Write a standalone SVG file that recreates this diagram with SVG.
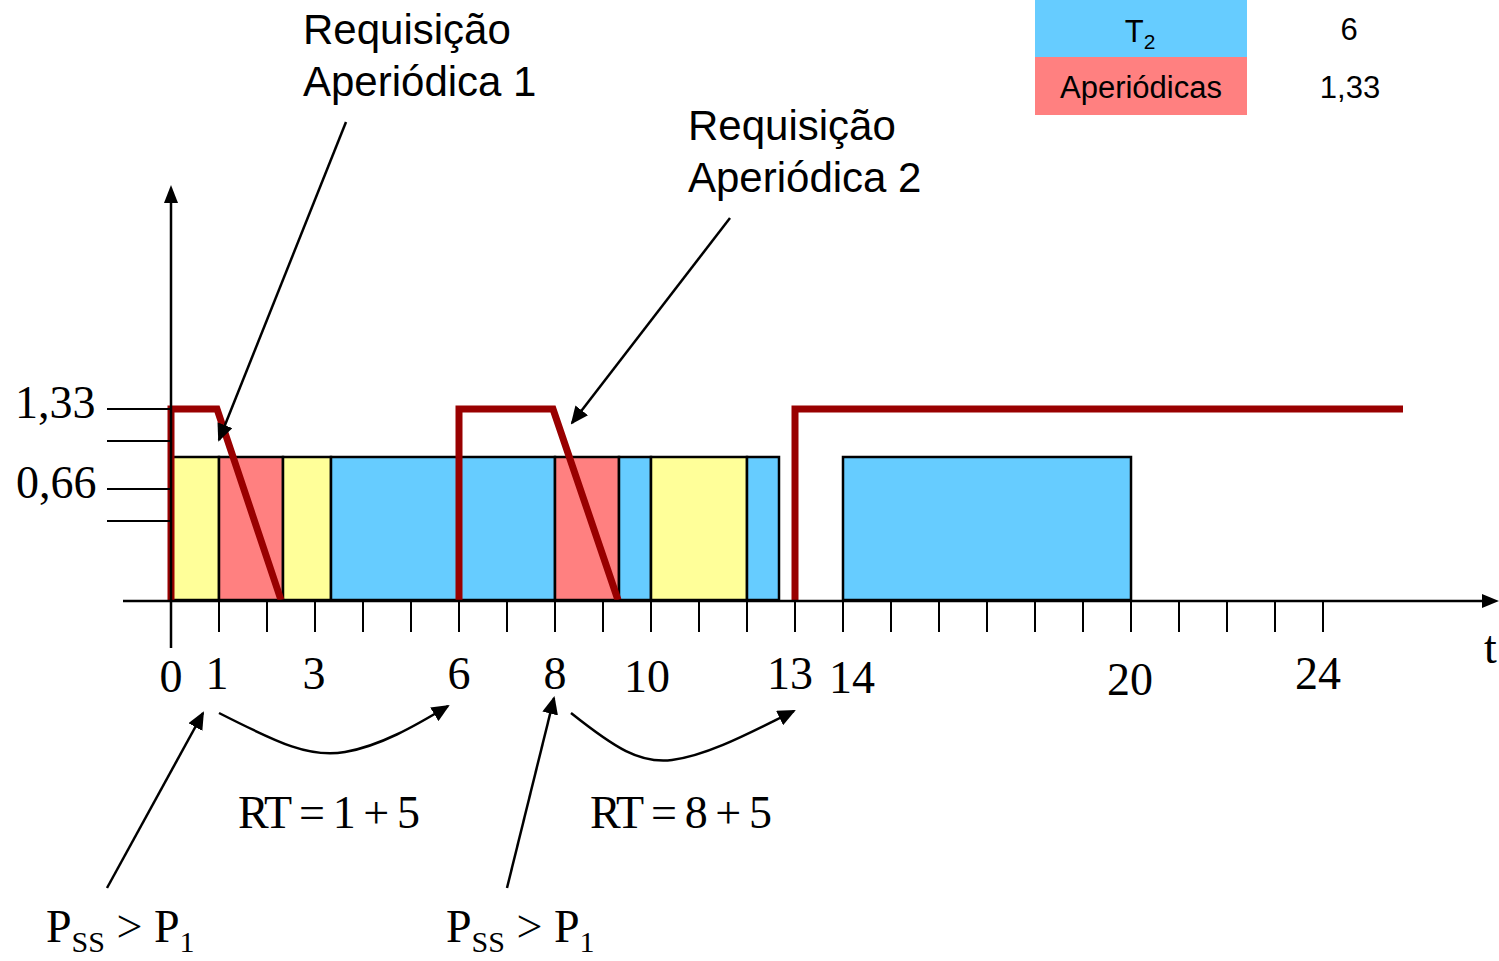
<svg xmlns="http://www.w3.org/2000/svg" width="1499" height="961" viewBox="0 0 1499 961">
<style>
.blue{fill:#66CCFF;stroke:#000;stroke-width:2.5}
.red{fill:#FF8080;stroke:#000;stroke-width:2.5}
.yel{fill:#FFFF99;stroke:#000;stroke-width:2.5}
.ax{stroke:#000;stroke-width:2.5;fill:none}
.tk{stroke:#000;stroke-width:2;fill:none}
.sig{stroke:#990000;stroke-width:7;fill:none;stroke-linejoin:miter}
.conn{stroke:#000;stroke-width:2.5;fill:none;marker-end:url(#ah)}
.ser{font-family:"Liberation Serif","Times New Roman",serif;font-size:46px;fill:#000}
.num{font-family:"Liberation Serif","Times New Roman",serif;font-size:46px;fill:#000;text-anchor:middle}
.san{font-family:"Liberation Sans",Arial,sans-serif;font-size:42px;fill:#000}
.leg{font-family:"Liberation Sans",Arial,sans-serif;font-size:31px;fill:#000;text-anchor:middle}
</style>
<defs>
<marker id="ah" markerWidth="18" markerHeight="16" refX="16" refY="8" orient="auto" markerUnits="userSpaceOnUse">
<path d="M0,0 L18,8 L0,16 Z" fill="#000"/>
</marker>
</defs>

<g id="legend">
<rect x="1035" y="0" width="212" height="57" fill="#66CCFF"/>
<rect x="1035" y="57" width="212" height="58" fill="#FF8080"/>
<text class="leg" x="1140" y="42">T<tspan font-size="21" dy="7">2</tspan></text>
<text class="leg" x="1349" y="40">6</text>
<text class="leg" x="1141" y="98">Aperiódicas</text>
<text class="leg" x="1350" y="98">1,33</text>
</g>

<g id="blocks">
<rect class="yel" x="171" y="457" width="48" height="143"/>
<rect class="red" x="219" y="457" width="64" height="143"/>
<rect class="yel" x="283" y="457" width="48" height="143"/>
<rect class="blue" x="331" y="457" width="224" height="143"/>
<rect class="red" x="555" y="457" width="64" height="143"/>
<rect class="blue" x="619" y="457" width="32" height="143"/>
<rect class="yel" x="651" y="457" width="96" height="143"/>
<rect class="blue" x="747" y="457" width="32" height="143"/>
<rect class="blue" x="843" y="457" width="288" height="143"/>
</g>

<g id="server-capacity">
<polyline class="sig" points="171,600 171,409 217,409 281,600"/>
<polyline class="sig" points="459,600 459,409 553,409 618,600"/>
<polyline class="sig" points="795,600 795,409 1403,409"/>
</g>

<g id="axes">
<line class="ax" x1="171" y1="648" x2="171" y2="200"/>
<path d="M164,203 L171,185 L178,203 Z" fill="#000"/>
<line class="ax" x1="123" y1="601" x2="1484" y2="601"/>
<path d="M1482,594 L1499,601 L1482,608 Z" fill="#000"/>
<g class="tk">
<line x1="107" y1="409" x2="171" y2="409"/>
<line x1="107" y1="441" x2="171" y2="441"/>
<line x1="107" y1="489" x2="171" y2="489"/>
<line x1="107" y1="521" x2="171" y2="521"/>
<path d="M219,601V632M267,601V632M315,601V632M363,601V632M411,601V632M459,601V632M507,601V632M555,601V632M603,601V632M651,601V632M699,601V632M747,601V632M795,601V632M843,601V632M891,601V632M939,601V632M987,601V632M1035,601V632M1083,601V632M1131,601V632M1179,601V632M1227,601V632M1275,601V632M1323,601V632"/>
</g>
</g>

<g id="axis-labels">
<text class="ser" x="15" y="418" font-size="47">1,33</text>
<text class="ser" x="16" y="498" font-size="47">0,66</text>
<text class="num" x="171" y="692">0</text>
<text class="num" x="217" y="689">1</text>
<text class="num" x="314" y="689">3</text>
<text class="num" x="459" y="689">6</text>
<text class="num" x="555" y="689">8</text>
<text class="num" x="647" y="692">10</text>
<text class="num" x="790" y="689">13</text>
<text class="num" x="852" y="693">14</text>
<text class="num" x="1130" y="695">20</text>
<text class="num" x="1318" y="689">24</text>
<text class="ser" x="1484" y="663">t</text>
</g>

<g id="req1-label">
<text class="san" x="303" y="44">Requisição</text>
<text class="san" x="303" y="96">Aperiódica 1</text>
</g>
<g id="req2-label">
<text class="san" x="688" y="140">Requisição</text>
<text class="san" x="688" y="192">Aperiódica 2</text>
</g>

<g id="rt-labels">
<text class="ser" x="238" y="828" font-size="44" textLength="182" lengthAdjust="spacing">RT = 1 + 5</text>
<text class="ser" x="590" y="828" font-size="44" textLength="182" lengthAdjust="spacing">RT = 8 + 5</text>
</g>

<g id="priority-labels">
<text class="ser" x="46" y="942" font-size="48">P<tspan font-size="30" dy="10">SS</tspan><tspan dy="-10"> &gt; P</tspan><tspan font-size="30" dy="10">1</tspan></text>
<text class="ser" x="446" y="942" font-size="48">P<tspan font-size="30" dy="10">SS</tspan><tspan dy="-10"> &gt; P</tspan><tspan font-size="30" dy="10">1</tspan></text>
</g>

<g id="connectors">
<line class="conn" x1="346" y1="122" x2="219" y2="440"/>
<line class="conn" x1="730" y1="218" x2="572" y2="423"/>
<line class="conn" x1="107" y1="888" x2="203" y2="713"/>
<line class="conn" x1="507" y1="888" x2="554" y2="698"/>
<path class="conn" d="M219,713 C280,744 310,758 345,752 C380,746 415,726 448,706"/>
<path class="conn" d="M571,713 C615,748 640,764 672,760 C710,755 755,730 794,711"/>
</g>
</svg>
